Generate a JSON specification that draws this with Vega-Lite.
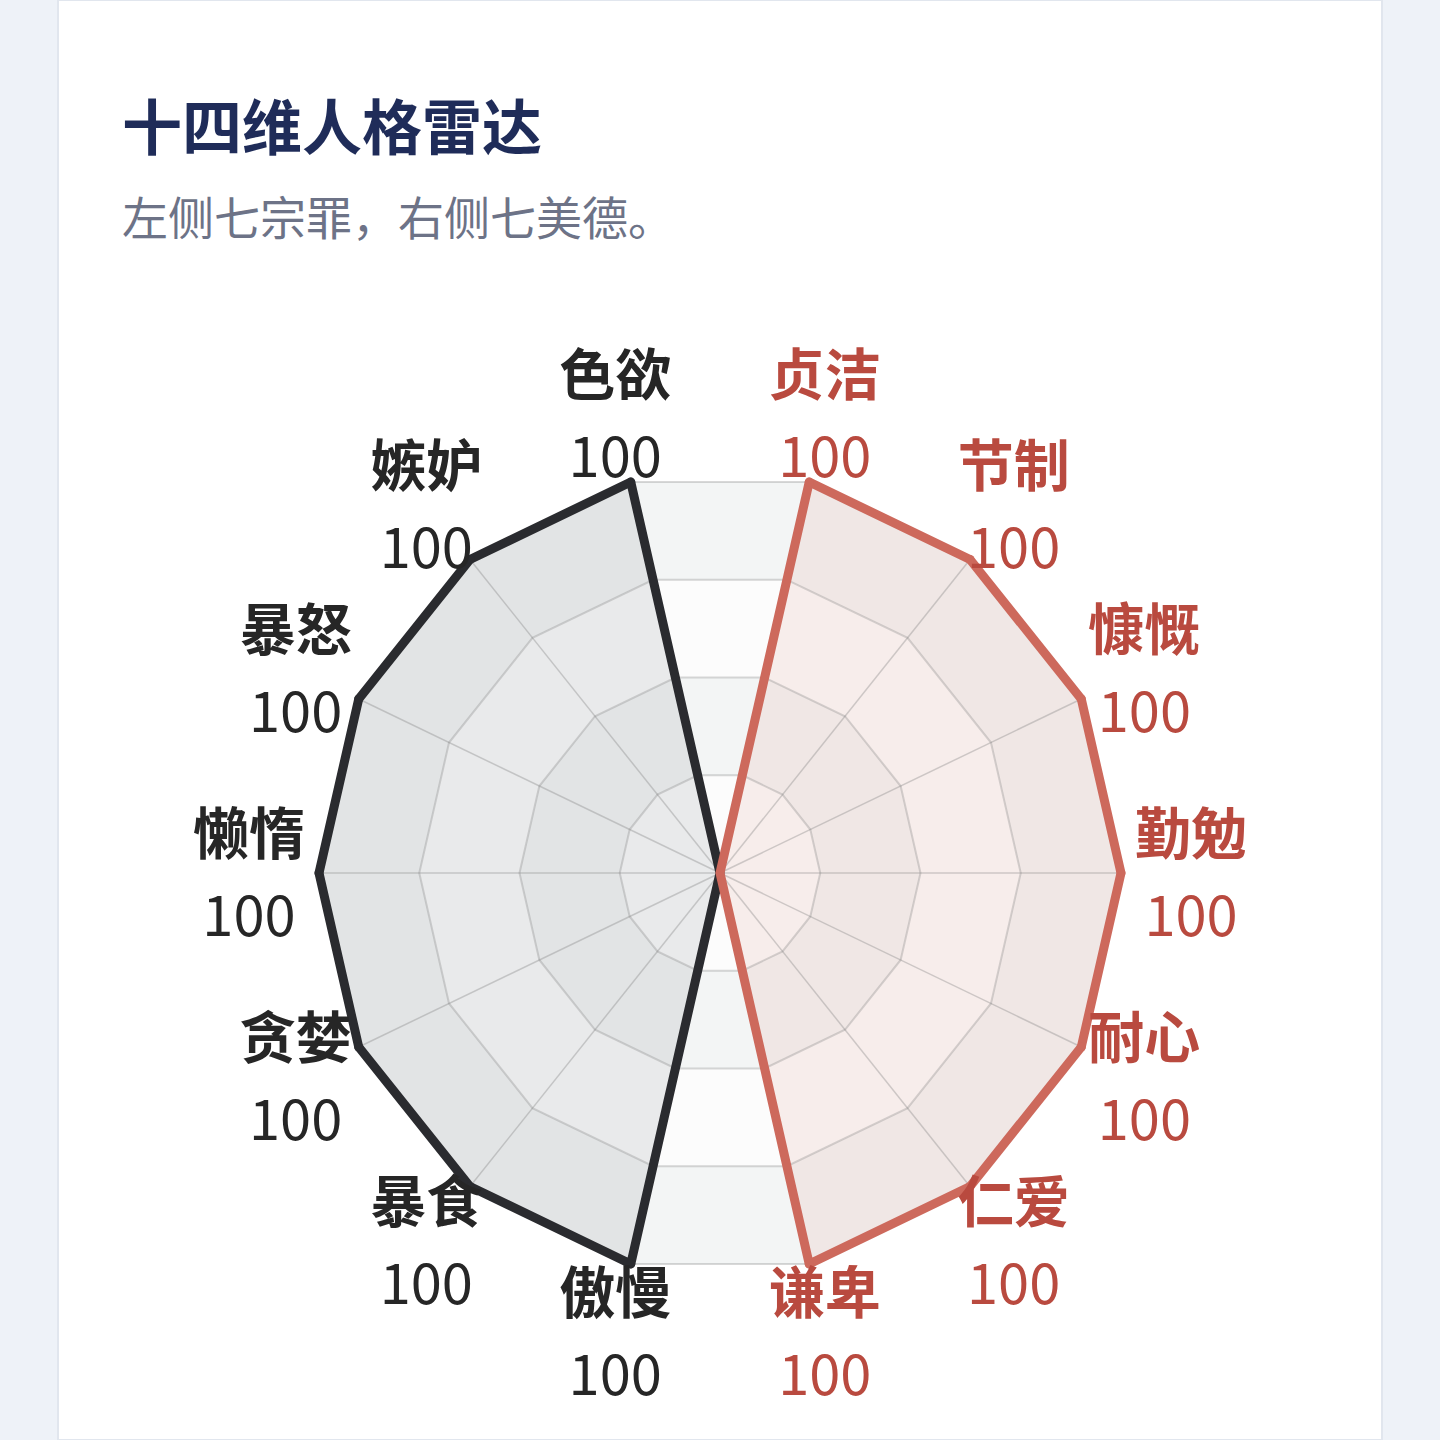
{
  "$schema": "https://vega.github.io/schema/vega-lite/v6.json",
  "width": 1440,
  "height": 1440,
  "autosize": {"type": "fit", "contains": "padding"},
  "padding": {"left": 58, "right": 58, "top": 0, "bottom": 0},
  "background": "#eef2f8",
  "config": {
    "view": {"fill": "#ffffff", "stroke": "#e1e6ee", "strokeWidth": 2},
    "font": "Noto Sans CJK SC"
  },
  "title": {
    "text": "十四维人格雷达",
    "subtitle": "左侧七宗罪，右侧七美德。",
    "anchor": "start",
    "frame": "group",
    "orient": "top",
    "offset": -245,
    "dx": 64,
    "font": "Noto Sans CJK SC",
    "fontSize": 60,
    "fontWeight": "bold",
    "color": "#1f2c59",
    "subtitleFont": "Noto Sans CJK SC",
    "subtitleFontSize": 46,
    "subtitleFontWeight": "normal",
    "subtitleColor": "#6d7387",
    "subtitlePadding": 36
  },
  "datasets": {
    "traits": [
      {"name": "贞洁", "side": "德", "k": 1, "value": 100},
      {"name": "节制", "side": "德", "k": 2, "value": 100},
      {"name": "慷慨", "side": "德", "k": 3, "value": 100},
      {"name": "勤勉", "side": "德", "k": 4, "value": 100},
      {"name": "耐心", "side": "德", "k": 5, "value": 100},
      {"name": "仁爱", "side": "德", "k": 6, "value": 100},
      {"name": "谦卑", "side": "德", "k": 7, "value": 100},
      {"name": "傲慢", "side": "罪", "k": 8, "value": 100},
      {"name": "暴食", "side": "罪", "k": 9, "value": 100},
      {"name": "贪婪", "side": "罪", "k": 10, "value": 100},
      {"name": "懒惰", "side": "罪", "k": 11, "value": 100},
      {"name": "暴怒", "side": "罪", "k": 12, "value": 100},
      {"name": "嫉妒", "side": "罪", "k": 13, "value": 100},
      {"name": "色欲", "side": "罪", "k": 14, "value": 100}
    ],
    "rings": [
      {"level": 100, "k": [1, 2, 3, 4, 5, 6, 7, 8, 9, 10, 11, 12, 13, 14]},
      {"level": 75, "k": [1, 2, 3, 4, 5, 6, 7, 8, 9, 10, 11, 12, 13, 14]},
      {"level": 50, "k": [1, 2, 3, 4, 5, 6, 7, 8, 9, 10, 11, 12, 13, 14]},
      {"level": 25, "k": [1, 2, 3, 4, 5, 6, 7, 8, 9, 10, 11, 12, 13, 14]}
    ]
  },
  "layer": [
    {
      "data": {"name": "rings"},
      "transform": [
        {"flatten": ["k"]},
        {"calculate": "(datum.k - 0.5) * 2 * PI / 14", "as": "ang"},
        {"calculate": "datum.level * sin(datum.ang)", "as": "gx"},
        {"calculate": "datum.level * cos(datum.ang)", "as": "gy"}
      ],
      "mark": {"type": "line", "interpolate": "linear-closed", "strokeOpacity": 0, "fillOpacity": 1},
      "encoding": {
        "x": {"field": "gx", "type": "quantitative", "scale": {"domain": [-165.09, 165.09], "nice": false, "zero": false}, "axis": null},
        "y": {"field": "gy", "type": "quantitative", "scale": {"domain": [-141.4, 217.71], "nice": false, "zero": false}, "axis": null},
        "order": {"field": "k", "type": "quantitative"},
        "detail": {"field": "level", "type": "nominal"},
        "fill": {"condition": {"test": "datum.level % 50 == 0", "value": "#f3f5f5"}, "value": "#fcfcfc"}
      }
    },
    {
      "data": {"name": "traits"},
      "transform": [
        {"impute": "value", "key": "k", "keyvals": [0], "groupby": ["side"], "value": 0},
        {"calculate": "(datum.k - 0.5) * 2 * PI / 14", "as": "ang"},
        {"calculate": "datum.value * sin(datum.ang)", "as": "px"},
        {"calculate": "datum.value * cos(datum.ang)", "as": "py"}
      ],
      "mark": {"type": "line", "interpolate": "linear-closed", "strokeOpacity": 0, "fillOpacity": 0.17},
      "encoding": {
        "x": {"field": "px", "type": "quantitative", "axis": null},
        "y": {"field": "py", "type": "quantitative", "axis": null},
        "order": {"field": "k", "type": "quantitative"},
        "detail": {"field": "side", "type": "nominal"},
        "fill": {"condition": {"test": "datum.side == '罪'", "value": "#8f959b"}, "value": "#e0a79c"}
      }
    },
    {
      "data": {"name": "rings"},
      "transform": [
        {"flatten": ["k"]},
        {"calculate": "(datum.k - 0.5) * 2 * PI / 14", "as": "ang"},
        {"calculate": "datum.level * sin(datum.ang)", "as": "gx"},
        {"calculate": "datum.level * cos(datum.ang)", "as": "gy"}
      ],
      "mark": {"type": "line", "interpolate": "linear-closed", "color": "#7d7d7d", "strokeOpacity": 0.3, "strokeWidth": 2},
      "encoding": {
        "x": {"field": "gx", "type": "quantitative", "axis": null},
        "y": {"field": "gy", "type": "quantitative", "axis": null},
        "order": {"field": "k", "type": "quantitative"},
        "detail": {"field": "level", "type": "nominal"}
      }
    },
    {
      "data": {"name": "traits"},
      "transform": [
        {"calculate": "(datum.k - 0.5) * 2 * PI / 14", "as": "ang"},
        {"calculate": "100 * sin(datum.ang)", "as": "sx"},
        {"calculate": "100 * cos(datum.ang)", "as": "sy"}
      ],
      "mark": {"type": "rule", "color": "#7d7d7d", "strokeOpacity": 0.35, "strokeWidth": 1.5},
      "encoding": {
        "x": {"field": "sx", "type": "quantitative", "axis": null},
        "y": {"field": "sy", "type": "quantitative", "axis": null},
        "x2": {"datum": 0},
        "y2": {"datum": 0}
      }
    },
    {
      "data": {"name": "traits"},
      "transform": [
        {"filter": "datum.side == '罪'"},
        {"impute": "value", "key": "k", "keyvals": [0], "value": 0},
        {"calculate": "(datum.k - 0.5) * 2 * PI / 14", "as": "ang"},
        {"calculate": "datum.value * sin(datum.ang)", "as": "px"},
        {"calculate": "datum.value * cos(datum.ang)", "as": "py"}
      ],
      "mark": {"type": "line", "interpolate": "linear-closed", "color": "#2a2b2f", "strokeWidth": 9, "strokeJoin": "round"},
      "encoding": {
        "x": {"field": "px", "type": "quantitative", "axis": null},
        "y": {"field": "py", "type": "quantitative", "axis": null},
        "order": {"field": "k", "type": "quantitative"}
      }
    },
    {
      "data": {"name": "traits"},
      "transform": [
        {"filter": "datum.side == '德'"},
        {"impute": "value", "key": "k", "keyvals": [0], "value": 0},
        {"calculate": "(datum.k - 0.5) * 2 * PI / 14", "as": "ang"},
        {"calculate": "datum.value * sin(datum.ang)", "as": "px"},
        {"calculate": "datum.value * cos(datum.ang)", "as": "py"}
      ],
      "mark": {"type": "line", "interpolate": "linear-closed", "color": "#cd695c", "strokeWidth": 9, "strokeJoin": "round"},
      "encoding": {
        "x": {"field": "px", "type": "quantitative", "axis": null},
        "y": {"field": "py", "type": "quantitative", "axis": null},
        "order": {"field": "k", "type": "quantitative"}
      }
    },
    {
      "data": {"name": "traits"},
      "transform": [
        {"calculate": "(datum.k - 0.5) * 2 * PI / 14", "as": "ang"},
        {"calculate": "datum.value * sin(datum.ang)", "as": "px"},
        {"calculate": "datum.value * cos(datum.ang)", "as": "py"}
      ],
      "mark": {"type": "point", "shape": "circle", "filled": true, "size": 80, "opacity": 1},
      "encoding": {
        "x": {"field": "px", "type": "quantitative", "axis": null},
        "y": {"field": "py", "type": "quantitative", "axis": null},
        "color": {"condition": {"test": "datum.side == '罪'", "value": "#2a2b2f"}, "value": "#cd695c"}
      }
    },
    {
      "data": {"name": "traits"},
      "transform": [
        {"calculate": "(datum.k - 0.5) * 2 * PI / 14", "as": "ang"},
        {"calculate": "117.46 * sin(datum.ang)", "as": "lx"},
        {"calculate": "117.46 * cos(datum.ang)", "as": "ly"}
      ],
      "mark": {"type": "text", "font": "Noto Sans CJK SC", "fontSize": 56, "fontWeight": "bold", "align": "center", "baseline": "middle", "dy": -36},
      "encoding": {
        "x": {"field": "lx", "type": "quantitative", "axis": null},
        "y": {"field": "ly", "type": "quantitative", "axis": null},
        "text": {"field": "name", "type": "nominal"},
        "color": {"condition": {"test": "datum.side == '罪'", "value": "#262626"}, "value": "#b94a3f"}
      }
    },
    {
      "data": {"name": "traits"},
      "transform": [
        {"calculate": "(datum.k - 0.5) * 2 * PI / 14", "as": "ang"},
        {"calculate": "117.46 * sin(datum.ang)", "as": "lx"},
        {"calculate": "117.46 * cos(datum.ang)", "as": "ly"}
      ],
      "mark": {"type": "text", "font": "Noto Sans CJK SC", "fontSize": 56, "fontWeight": "normal", "align": "center", "baseline": "middle", "dy": 46},
      "encoding": {
        "x": {"field": "lx", "type": "quantitative", "axis": null},
        "y": {"field": "ly", "type": "quantitative", "axis": null},
        "text": {"field": "value", "type": "quantitative"},
        "color": {"condition": {"test": "datum.side == '罪'", "value": "#262626"}, "value": "#b94a3f"}
      }
    }
  ]
}
